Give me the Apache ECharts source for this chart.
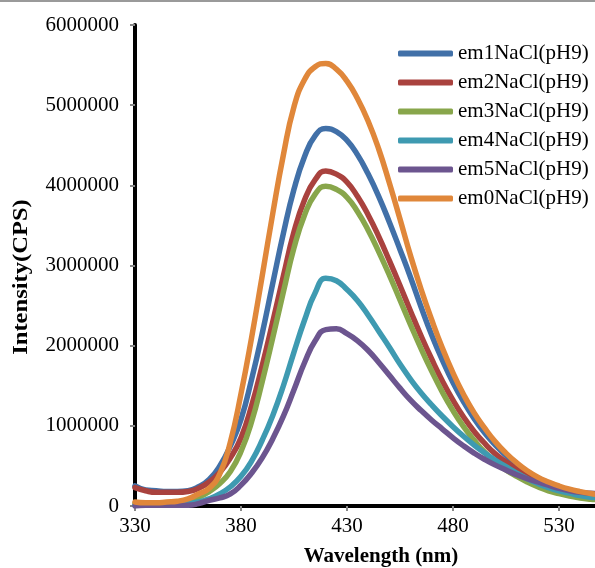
<!DOCTYPE html>
<html>
<head>
<meta charset="utf-8">
<script src="https://cdn.jsdelivr.net/npm/echarts@6/dist/echarts.min.js"></script>
<style>html,body{margin:0;padding:0;background:#fff;}#c{width:595px;height:568px;}</style>
</head>
<body>
<div id="c"></div>
<script>
var wavelengths = [330,335,340,345,350,355,360,365,370,375,380,385,390,395,400,405,410,415,420,425,430,435,440,445,450,455,460,465,470,475,480,485,490,495,500,505,510,515,520,525,530,535,540,545,550];
var seriesNames = ['em1NaCl(pH9)','em2NaCl(pH9)','em3NaCl(pH9)','em4NaCl(pH9)','em5NaCl(pH9)','em0NaCl(pH9)'];
// values in millions of CPS
var em1 = [0.25,0.20,0.19,0.18,0.18,0.19,0.24,0.33,0.50,0.75,1.08,1.58,2.15,2.78,3.40,3.95,4.36,4.62,4.71,4.67,4.56,4.38,4.14,3.86,3.54,3.20,2.85,2.48,2.13,1.82,1.54,1.30,1.09,0.91,0.76,0.63,0.52,0.43,0.35,0.29,0.24,0.20,0.17,0.145,0.125];
var em2 = [0.23,0.19,0.17,0.17,0.17,0.18,0.22,0.30,0.42,0.60,0.85,1.25,1.75,2.30,2.87,3.42,3.82,4.07,4.18,4.14,4.04,3.86,3.63,3.36,3.06,2.75,2.43,2.12,1.83,1.56,1.32,1.11,0.93,0.78,0.65,0.55,0.46,0.38,0.31,0.26,0.21,0.18,0.15,0.13,0.11];
var em3 = [0.03,0.03,0.03,0.04,0.05,0.07,0.11,0.18,0.28,0.43,0.68,1.05,1.55,2.10,2.67,3.22,3.63,3.89,3.99,3.95,3.85,3.67,3.44,3.17,2.88,2.57,2.26,1.96,1.68,1.42,1.19,0.99,0.82,0.67,0.55,0.45,0.37,0.30,0.24,0.19,0.155,0.125,0.10,0.085,0.075];
var em4 = [0.01,0.01,0.01,0.02,0.02,0.03,0.05,0.09,0.15,0.24,0.37,0.56,0.82,1.13,1.50,1.92,2.32,2.66,2.84,2.81,2.70,2.56,2.38,2.18,1.98,1.77,1.58,1.41,1.26,1.12,0.99,0.87,0.76,0.66,0.57,0.49,0.41,0.34,0.28,0.23,0.19,0.16,0.13,0.11,0.10];
var em5 = [0.00,0.01,0.01,0.01,0.01,0.01,0.03,0.07,0.10,0.15,0.26,0.41,0.60,0.84,1.12,1.45,1.79,2.06,2.20,2.21,2.15,2.06,1.94,1.79,1.63,1.47,1.32,1.19,1.07,0.96,0.85,0.75,0.66,0.58,0.51,0.45,0.39,0.34,0.30,0.26,0.22,0.19,0.17,0.16,0.15];
var em0 = [0.05,0.04,0.04,0.05,0.06,0.09,0.15,0.22,0.40,0.80,1.40,2.10,2.87,3.65,4.38,4.98,5.32,5.48,5.52,5.45,5.30,5.08,4.80,4.45,4.03,3.58,3.12,2.70,2.32,1.97,1.66,1.39,1.16,0.97,0.80,0.66,0.54,0.44,0.36,0.30,0.25,0.21,0.18,0.155,0.135];
var seriesValues = [em1, em2, em3, em4, em5, em0];
var colors = ['#4170a8','#a9423e','#88a64b','#3e9ab1','#6c558f','#e0873a'];

var chart = echarts.init(document.getElementById('c'), null, {renderer:'canvas'});
var font = '"Liberation Serif","Times New Roman",serif';
var series = seriesNames.map(function(n, i){
  return {
    name: n, type: 'line', smooth: 0.5, showSymbol: false, symbol: 'none',
    lineStyle: {width: 5.5, color: colors[i], cap: 'round', join: 'round'},
    itemStyle: {color: colors[i]},
    data: wavelengths.map(function(w, j){ return [w, seriesValues[i][j] * 1000000]; }),
    z: 2
  };
});
chart.setOption({
  animation: false,
  backgroundColor: '#fff',
  grid: {left: 135, top: 25, right: 0, bottom: 62, containLabel: false},
  legend: {
    orient: 'vertical', left: 398, top: 39, itemGap: 0, padding: 0,
    itemWidth: 55, itemHeight: 6, icon: 'roundRect',
    textStyle: {fontFamily: font, fontSize: 21, color: '#000', lineHeight: 29},
    data: seriesNames
  },
  xAxis: [{
    type: 'value', min: 330, max: 547, interval: 50,
    axisLine: {show: true, onZero: false, lineStyle: {color: '#000', width: 4}},
    axisTick: {show: true, length: 5, lineStyle: {color: '#888', width: 2}},
    axisLabel: {fontFamily: font, fontSize: 21, color: '#000', margin: 10, showMaxLabel: false},
    splitLine: {show: false}
  }, {
    type: 'value', position: 'top', min: 330, max: 547, interval: 50,
    axisLine: {show: true, lineStyle: {color: '#000', width: 4}},
    axisTick: {show: false}, axisLabel: {show: false}, splitLine: {show: false}
  }],
  yAxis: {
    type: 'value', min: 0, max: 6000000, interval: 1000000,
    axisLine: {show: true, lineStyle: {color: '#000', width: 4}},
    axisTick: {show: true, length: 5, lineStyle: {color: '#888', width: 2}},
    axisLabel: {fontFamily: font, fontSize: 21, color: '#000', margin: 16, formatter: function(v){ return String(v); }},
    splitLine: {show: false}
  },
  graphic: [
    {type: 'rect', left: 0, top: 0, shape: {width: 595, height: 2}, style: {fill: '#9a9a9a'}},
    {type: 'text', x: 381, y: 557, style: {text: 'Wavelength (nm)', font: 'bold 21px ' + font, fill: '#000', align: 'center', verticalAlign: 'middle'}},
    {type: 'text', x: 22, y: 277, rotation: Math.PI/2, scaleX: 1.17, style: {text: 'Intensity(CPS)', font: 'bold 21px ' + font, fill: '#000', align: 'center', verticalAlign: 'middle'}}
  ],
  series: series
});
</script>
</body>
</html>
